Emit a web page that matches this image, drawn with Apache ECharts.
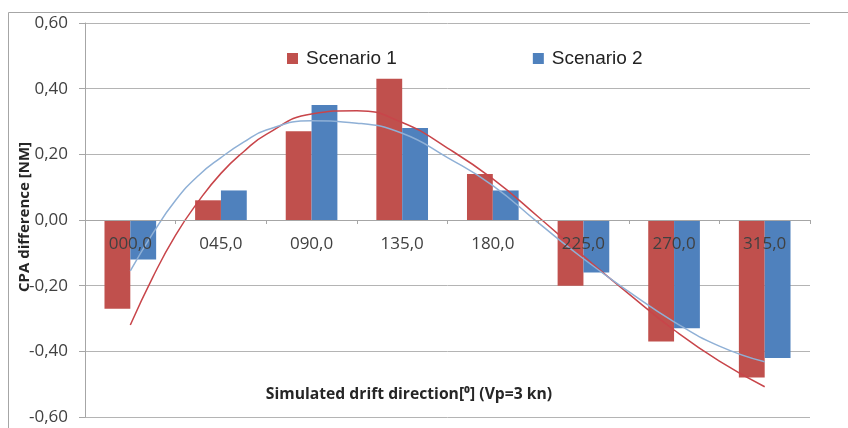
<!DOCTYPE html>
<html><head><meta charset="utf-8">
<script src="https://cdn.jsdelivr.net/npm/echarts@6/dist/echarts.min.js"></script>
<style>html,body{margin:0;padding:0;background:#fff}#c{width:848px;height:428px}</style>
</head><body><div id="c"></div>
<script>
const categories = ['000,0','045,0','090,0','135,0','180,0','225,0','270,0','315,0'];
const scenario1 = [-0.27, 0.06, 0.27, 0.43, 0.14, -0.20, -0.37, -0.48];
const scenario2 = [-0.12, 0.09, 0.35, 0.28, 0.09, -0.16, -0.33, -0.42];
// trendline positions in category units (0 = left edge, 8 = right edge)
const trendX = [0.5, 0.75, 1.0, 1.25, 1.5, 1.75, 2.0, 2.5, 3.0, 3.5, 4.0, 4.5, 5.0, 5.5, 6.0, 6.5, 7.0, 7.5];
const trend1 = [-0.32, -0.173, -0.046, 0.056, 0.142, 0.208, 0.261, 0.323, 0.333, 0.297, 0.219, 0.125, 0.01, -0.11, -0.225, -0.335, -0.43, -0.508];
const trend2 = [-0.155, -0.04, 0.06, 0.135, 0.19, 0.237, 0.274, 0.302, 0.295, 0.264, 0.19, 0.105, -0.008, -0.118, -0.218, -0.31, -0.384, -0.432];
const yTicks = {min: -0.6, max: 0.6, interval: 0.2};

const chart = echarts.init(document.getElementById('c'), null, {renderer: 'canvas'});
const fmt = v => v.toFixed(2).replace('.', ',');
const lbl = '"Open Sans", sans-serif';
chart.setOption({
  animation: false,
  backgroundColor: '#fff',
  grid: {left: 85, right: 38, top: 23, bottom: 11, containLabel: false, outerBoundsMode: 'none'},
  legend: {
    data: ['Scenario 1', 'Scenario 2'],
    left: 282, top: 44, itemWidth: 11, itemHeight: 11, itemGap: 136, icon: 'rect',
    textStyle: {fontFamily: '"Liberation Sans", Arial, sans-serif', fontSize: 19, color: '#222', padding: [0, 0, 0, 3]}
  },
  xAxis: [{
    type: 'category', data: categories, z: 10, position: 'bottom', offset: -197,
    axisLine: {onZero: false, lineStyle: {color: '#a6a6a6', width: 1}},
    axisTick: {show: true, length: 4, lineStyle: {color: '#a6a6a6'}},
    axisLabel: {fontFamily: lbl, fontSize: 17, color: '#404040', margin: 16},
    splitLine: {show: false}
  }, {
    type: 'value', min: 0, max: 8, show: false
  }],
  yAxis: {
    type: 'value', min: yTicks.min, max: yTicks.max, interval: yTicks.interval,
    axisLine: {show: true, lineStyle: {color: '#a6a6a6'}},
    axisTick: {show: true, length: 6, lineStyle: {color: '#a6a6a6'}},
    axisLabel: {fontFamily: lbl, fontSize: 17, color: '#404040', margin: 17, formatter: fmt},
    splitLine: {lineStyle: {color: '#b4b4b4', width: 1}}
  },
  series: [
    {name: 'Scenario 1', type: 'bar', data: scenario1, barGap: '0%', barCategoryGap: '43%', itemStyle: {color: '#c0504d'}},
    {name: 'Scenario 2', type: 'bar', data: scenario2, barGap: '0%', barCategoryGap: '43%', itemStyle: {color: '#4f81bd'}},
    {name: 'Trend 1', type: 'line', xAxisIndex: 1, smooth: 0.5, showSymbol: false, z: 5,
      data: trendX.map((x, i) => [x, trend1[i]]), lineStyle: {color: '#c8454a', width: 1.5}},
    {name: 'Trend 2', type: 'line', xAxisIndex: 1, smooth: 0.5, showSymbol: false, z: 5,
      data: trendX.map((x, i) => [x, trend2[i]]), lineStyle: {color: '#8fb0d6', width: 1.5}}
  ],
  graphic: [
    {type: 'rect', shape: {x: 8.5, y: 12.5, width: 1000, height: 1000}, style: {fill: 'none', stroke: '#a6a6a6', lineWidth: 1}, silent: true},
    {type: 'text', x: 25, y: 217, rotation: Math.PI / 2,
      style: {text: 'CPA difference [NM]', fontFamily: lbl, fontWeight: 'bold', fontSize: 15, fill: '#262626', align: 'center', verticalAlign: 'middle'}},
    {type: 'text', x: 409, y: 395,
      style: {text: 'Simulated drift direction[\u2070] (Vp=3 kn)', fontFamily: lbl, fontWeight: 'bold', fontSize: 15.7, fill: '#262626', align: 'center', verticalAlign: 'middle'}}
  ]
});
</script></body></html>
